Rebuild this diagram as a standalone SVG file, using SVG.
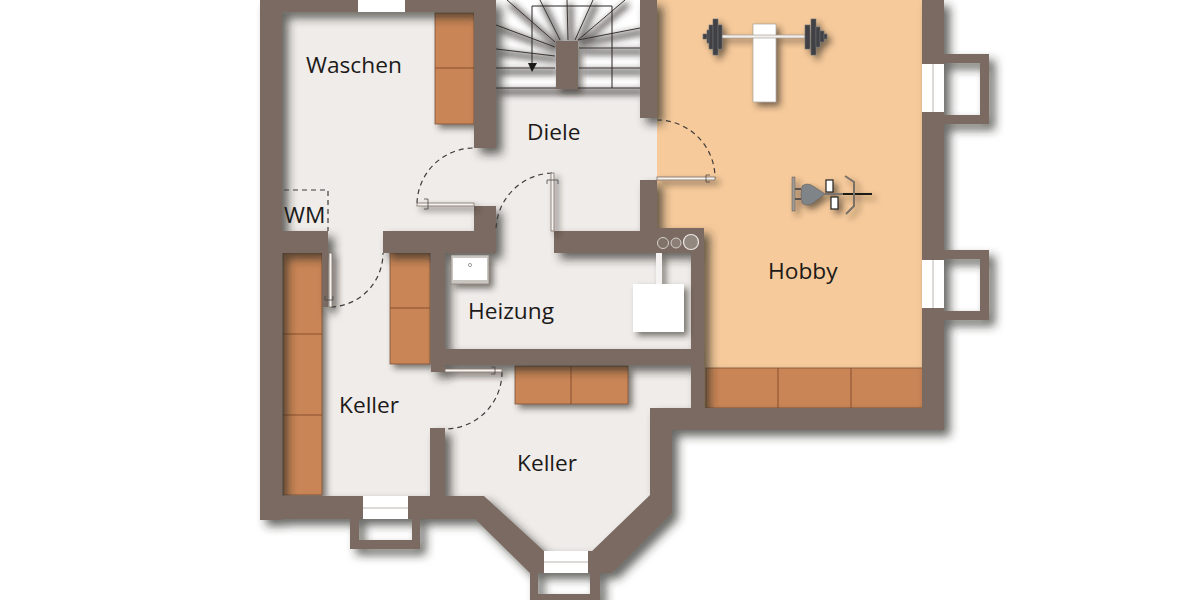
<svg xmlns="http://www.w3.org/2000/svg" width="1200" height="600" viewBox="0 0 1200 600">
<style>
.wall{fill:#7a6b62}
.win{fill:#fff}
.sep{stroke:#b9b4b0;stroke-width:1;fill:none}
.cab{fill:#c98557;stroke:#7a5236;stroke-width:.8}
.div{stroke:#8a4f2c;stroke-width:1}
.arc{fill:none;stroke:#3f3c3a;stroke-width:1.2;stroke-dasharray:5 4}
.leaf{fill:#f5f2ef;stroke:#7d6e65;stroke-width:.8}
.tread{stroke:#3a3532;stroke-width:1;fill:none}
.lbl{font-family:"Open Sans","Liberation Sans",sans-serif;font-size:22.7px;fill:#1c1a19}
</style>
<defs>
<filter id="ws" x="-10%" y="-10%" width="125%" height="125%"><feDropShadow dx="6" dy="6" stdDeviation="5" flood-color="#2b2623" flood-opacity=".7"/></filter>
<filter id="ss" x="-30%" y="-30%" width="170%" height="170%"><feDropShadow dx="4" dy="4" stdDeviation="3" flood-color="#2b2623" flood-opacity=".6"/></filter>
<filter id="b3" filterUnits="userSpaceOnUse" x="480" y="-20" width="180" height="130"><feGaussianBlur stdDeviation="3"/></filter>
<clipPath id="stairClip"><rect x="496" y="0" width="144" height="104"/></clipPath>
</defs>
<rect width="1200" height="600" fill="#fff"/>
<g id="floors">
<polygon fill="#efecea" points="282,0 657,0 657,253 692,253 692,408 650,408 650,495 592,551 544,551 484,496 282,496"/>
<polygon fill="#f6ca9b" points="657,0 923,0 923,408 704,408 704,228 657,228"/>
</g>
<g id="stairs">
<rect x="496" y="0" width="144" height="88" fill="#fff"/>
<g clip-path="url(#stairClip)">
<path filter="url(#b3)" transform="translate(3,4)" fill="none" stroke="#2e2926" stroke-width="6" stroke-opacity=".7" d="M496,25L555,47M496,49L555,56M496,68L555,68M496,88L640,88M507,0L555,42M540,0L560,40M567,0L568,40M593,0L575,40M625,0L578,40M640,28L578,40M579,48L640,48M579,68L640,68"/>
</g>
<path class="tread" d="M496,25L555,47M496,49L555,56M496,68L555,68M496,88L640,88M507,0L555,42M540,0L560,40M567,0L568,40M593,0L575,40M625,0L578,40M640,28L578,40M579,48L640,48M579,68L640,68"/>
<path d="M532,64V6H612V88" fill="none" stroke="#2a2624" stroke-width="1"/>
<polygon points="528,63 537,63 532,72" fill="#1c1a19"/>
<rect x="556" y="41" width="22" height="48" class="wall" filter="url(#ss)"/>
</g>
<g id="cabinets" filter="url(#ss)">
<rect class="cab" x="435" y="13" width="39" height="111"/>
<rect class="cab" x="283" y="253" width="39" height="242"/>
<rect class="cab" x="390" y="253" width="40" height="111"/>
<rect class="cab" x="515" y="366" width="113" height="38"/>
<rect class="cab" x="706" y="368" width="217" height="40"/>
</g>
<g id="cabinet-dividers" class="div">
<path d="M435,68H474M283,334H322M283,415H322M390,308H430M571,366V404M778,368V408M851,368V408"/>
</g>
<g id="walls" class="wall" filter="url(#ws)">
<rect x="260" y="0" width="22" height="520"/>
<rect x="282" y="0" width="192" height="12"/>
<rect x="474" y="0" width="22" height="148"/>
<rect x="640" y="0" width="17" height="118"/>
<rect x="922" y="0" width="22" height="430"/>
<path fill-rule="evenodd" d="M944,54H989V124H944ZM944,63V115H980V63Z"/>
<path fill-rule="evenodd" d="M944,250H989V320H944ZM944,259V311H980V259Z"/>
<rect x="691" y="228" width="13" height="202"/>
<rect x="650" y="408" width="294" height="22"/>
<polygon points="650,408 672,408 672,513 612,573 530,573 475,519 282,519 282,496 484,496 544,551 592,551 650,495"/>
<path fill-rule="evenodd" d="M350,519H420V549H350ZM359,519V540H412V519Z"/>
<path fill-rule="evenodd" d="M530,573H600V602H530ZM538,573V594H590V573Z"/>
<rect x="430" y="428" width="15" height="70"/>
<rect x="282" y="231" width="46" height="22"/>
<rect x="322" y="253" width="6" height="54"/>
<rect x="383" y="231" width="113" height="22"/>
<rect x="474" y="206" width="22" height="25"/>
<rect x="554" y="231" width="150" height="22"/>
<rect x="640" y="180" width="17" height="51"/>
<rect x="657" y="228" width="47" height="3"/>
<rect x="431" y="253" width="14" height="119"/>
<rect x="431" y="349" width="273" height="16"/>
</g>
<g id="windows">
<rect class="win" x="358" y="0" width="47" height="12"/>
<rect class="win" x="922" y="64" width="22" height="48"/><path class="sep" d="M933,64V112"/>
<rect class="win" x="922" y="260" width="22" height="48"/><path class="sep" d="M933,260V308"/>
<rect class="win" x="363" y="496" width="45" height="23"/><path class="sep" d="M363,508H408"/>
<rect class="win" x="544" y="551" width="44" height="22"/><path class="sep" d="M544,562H588"/>
</g>
<g id="doors">
<path class="arc" d="M417,203A57,57 0 0 1 474,148"/>
<path class="arc" d="M552,173A58,58 0 0 0 496,231"/>
<path class="arc" d="M657,120A58,58 0 0 1 715,178"/>
<path class="arc" d="M331,307A54,54 0 0 0 383,253"/>
<path class="arc" d="M502,372A57,57 0 0 1 445,429"/>
<g filter="url(#ss)">
<rect class="leaf" x="417" y="203" width="57" height="3"/>
<rect class="leaf" x="551" y="173" width="3" height="58"/>
<rect class="leaf" x="657" y="177" width="58" height="3"/>
<rect class="leaf" x="329" y="253" width="3" height="54"/>
<rect class="leaf" x="445" y="369" width="57" height="3"/>
</g>
<path fill="none" stroke="#4a4744" stroke-width=".8" d="M428,199V209M424,199H428M424,209H428M547,180H558M547,180V184M558,180V184M706,175V182M706,175H710M706,182H710M325,300H333M325,300V296M333,300V296M495,367V374M491,367H495M491,374H495"/>
<path class="arc" d="M284,190H328V231"/>
</g>
<g id="heating">
<g filter="url(#ss)">
<rect x="451" y="255" width="38" height="29" fill="#c9c6c2" stroke="#7d6e65" stroke-width=".6"/>
<rect x="453" y="258" width="34" height="22" fill="#fff"/>
<rect x="656" y="253" width="6" height="33" fill="#f5f3f1"/>
<rect x="633" y="284" width="51" height="48" fill="#fff"/>
</g>
<circle cx="470" cy="265" r="1.6" fill="none" stroke="#777" stroke-width=".7"/>
<circle cx="663" cy="243" r="5.5" fill="#7f7269" stroke="#d5d0cb" stroke-width="1"/>
<circle cx="676" cy="243" r="5" fill="#8a7e76" stroke="#d5d0cb" stroke-width="1"/>
<circle cx="691" cy="242" r="7.5" fill="#93887f" stroke="#ece9e6" stroke-width="1.2"/>
</g>
<g id="bench">
<g filter="url(#ss)">
<rect x="753" y="24" width="23" height="78" fill="#fff" stroke="#9c948c" stroke-width=".6"/>
<rect x="722" y="35" width="83" height="3" fill="#f2efec" stroke="#8a8078" stroke-width=".5"/>
<g fill="#3f4144" stroke="#6b6f73" stroke-width=".6">
<rect x="703" y="34" width="4" height="5"/><rect x="707" y="30" width="5" height="13"/><rect x="709" y="25" width="4" height="24"/>
<rect x="713" y="19" width="5" height="36"/><rect x="718" y="25" width="4" height="24"/>
<rect x="805" y="25" width="5" height="24"/><rect x="811" y="19" width="5" height="36"/><rect x="816" y="27" width="4" height="20"/>
<rect x="820" y="31" width="4" height="11"/><rect x="824" y="34" width="3" height="5"/>
</g>
</g>
</g>
<g id="bike">
<g filter="url(#ss)">
<rect x="792" y="177" width="3" height="34" fill="#a09a94" stroke="#5b5550" stroke-width=".5"/>
<path d="M795,189H801M795,199H801" stroke="#5b5550" stroke-width="2"/>
<path d="M802,186Q807,182 813,186L825,194L813,203Q807,207 802,203Q800,194 802,186Z" fill="#7f8489" stroke="#5b5550" stroke-width=".5"/>
<path d="M825,194H843" stroke="#7a736d" stroke-width="2"/>
<path d="M843,194H872" stroke="#1c1a19" stroke-width="2"/>
<path d="M845,176L854,182V206L846,214" fill="none" stroke="#7a6f66" stroke-width="2"/>
<rect x="826" y="180" width="7" height="12" fill="#fff" stroke="#222" stroke-width="1.2"/>
<rect x="831" y="197" width="7" height="12" fill="#fff" stroke="#222" stroke-width="1.2"/>
</g>
</g>
<g id="labels" class="lbl">
<text x="306" y="73">Waschen</text>
<text x="527" y="140">Diele</text>
<text x="284" y="223">WM</text>
<text x="768" y="279">Hobby</text>
<text x="468" y="319">Heizung</text>
<text x="339" y="413">Keller</text>
<text x="517" y="471">Keller</text>
</g>
</svg>
